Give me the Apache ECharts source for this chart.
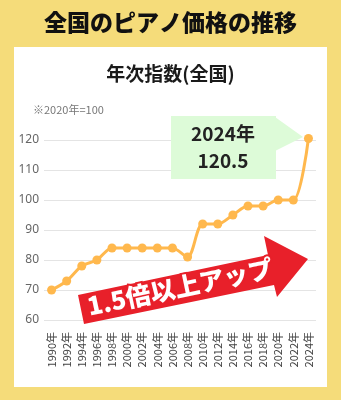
<!DOCTYPE html>
<html><head><meta charset="utf-8">
<script src="https://cdn.jsdelivr.net/npm/echarts@6/dist/echarts.min.js"></script>
<style>html,body{margin:0;padding:0;background:#F5DC7A;}#c{width:341px;height:400px;}</style>
</head><body><div id="c"></div>
<script>
const years = ['1990年','1992年','1994年','1996年','1998年','2000年','2002年','2004年','2006年','2008年','2010年','2012年','2014年','2016年','2018年','2020年','2022年','2024年'];
const indexValues = [70, 73, 78, 80, 84, 84, 84, 84, 84, 81, 92, 92, 95, 98, 98, 100, 100, 120.5];
const yTicks = [60, 70, 80, 90, 100, 110, 120];

const chart = echarts.init(document.getElementById('c'), null, {renderer:'canvas'});
const jp = '"Noto Sans CJK JP", "Noto Sans", sans-serif';
chart.setOption({
  backgroundColor: '#F5DC7A',
  animation: false,
  title: [
    {text: '全国のピアノ価格の推移', left: 'center', top: 6,
     textStyle: {fontFamily: jp, fontSize: 23, fontWeight: 900, color: '#111'}},
    {text: '年次指数(全国)', left: 'center', top: 59,
     textStyle: {fontFamily: jp, fontSize: 19, fontWeight: 'bold', color: '#1a1a1a'}},
    {text: '※2020年=100', left: 28, top: 99,
     textStyle: {fontFamily: jp, fontSize: 11, fontWeight: 'normal', color: '#777'}}
  ],
  graphic: [
    {type: 'rect', z: -10, shape: {x: 14, y: 47, width: 313, height: 340}, style: {fill: '#fff'}},
    {type: 'polygon', z: 50, shape: {points: [[78,295],[268,255],[264,236],[308,259],[277,297],[274,285],[84,324]]}, style: {fill: '#E8202A'}},
    {type: 'text', z: 60, x: 180, y: 287, rotation: 11.9 * Math.PI / 180,
     style: {text: '1.5倍以上アップ', fontFamily: jp, fontSize: 25, fontWeight: 900, fill: '#fff',
             stroke: '#E8202A', lineWidth: 4, align: 'center', verticalAlign: 'middle'}},
    {type: 'rect', z: 40, shape: {x: 171, y: 116, width: 105, height: 63}, style: {fill: '#DDFBD8'}},
    {type: 'polygon', z: 40, shape: {points: [[275,117],[303,137],[275,151]]}, style: {fill: '#DDFBD8'}},
    {type: 'text', z: 45, x: 223, y: 147,
     style: {text: '2024年\n120.5', fontFamily: jp, fontSize: 19, fontWeight: 'bold', fill: '#222',
             align: 'center', verticalAlign: 'middle', lineHeight: 27}}
  ],
  grid: {left: 44, right: 25, top: 140, bottom: 80},
  xAxis: {
    type: 'category', data: years, boundaryGap: true,
    axisLine: {show: false}, axisTick: {show: false},
    axisLabel: {rotate: 90, interval: 0, fontSize: 11, color: '#444', margin: 12, fontFamily: jp}
  },
  yAxis: {
    type: 'value', min: yTicks[0], max: yTicks[yTicks.length-1], interval: 10,
    axisLine: {show: false}, axisTick: {show: false},
    axisLabel: {fontSize: 12, color: '#666', margin: 5, fontFamily: '"Noto Sans", sans-serif'},
    splitLine: {lineStyle: {color: '#E4E4E4', width: 1}}
  },
  series: [{
    type: 'line', data: indexValues, smooth: 0.3, clip: false,
    symbol: 'circle', symbolSize: 9,
    lineStyle: {color: '#FFB84D', width: 3},
    itemStyle: {color: '#FFB84D'}
  }]
});
</script></body></html>
